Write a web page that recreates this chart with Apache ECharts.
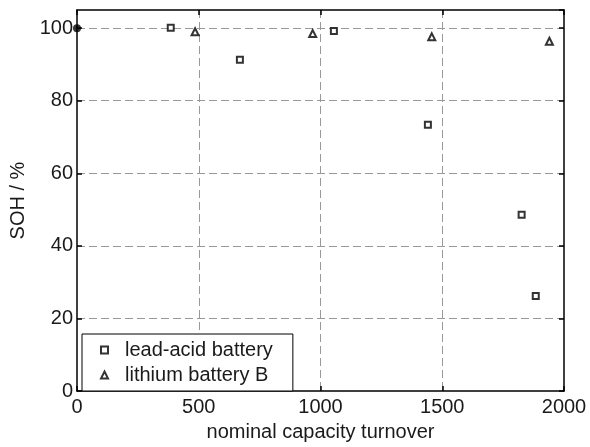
<!DOCTYPE html>
<html>
<head>
<meta charset="utf-8">
<script src="https://cdn.jsdelivr.net/npm/echarts@6/dist/echarts.min.js"></script>
<style>html,body{margin:0;padding:0;background:#fff}#c{width:590px;height:447px}</style>
</head>
<body>
<div id="c"></div>
<script>
// data
const leadAcidX = [385, 669, 1055, 1441, 1826, 1884];
const leadAcidY = [100.1, 91.3, 99.2, 73.4, 48.6, 26.2];
const lithiumX = [485, 968, 1457, 1940];
const lithiumY = [99.0, 98.5, 97.6, 96.4];
const startX = [0];
const startY = [100];
const xTicks = [0, 500, 1000, 1500, 2000];
const yTicks = [0, 20, 40, 60, 80, 100];
const seriesNames = ['lead-acid battery', 'lithium battery B'];

const pair = (xs, ys) => xs.map((x, i) => [x, ys[i]]);
const font = 'Liberation Sans, Arial, sans-serif';
const txt = '#1a1a1a';
const gridLine = {show: true, showMinLine: false, showMaxLine: false,
  lineStyle: {color: '#999', width: 1, type: [8, 4]}};
const frame = {show: true, onZero: false, lineStyle: {color: '#000', width: 1.5}};
const tick = {show: true, inside: true, length: 5, lineStyle: {color: '#000', width: 1.5}};

const chart = echarts.init(document.getElementById('c'), null, {renderer: 'canvas'});
chart.setOption({
  animation: false,
  backgroundColor: '#fff',
  grid: {left: 77, right: 26, top: 10, bottom: 53},
  legend: {
    orient: 'vertical', left: 82, top: 334,
    data: [
      {name: seriesNames[0], icon: 'rect'},
      {name: seriesNames[1], icon: 'triangle'}
    ],
    itemWidth: 7, itemHeight: 7, itemGap: 5,
    padding: [6, 20, 6, 18],
    borderColor: '#000', borderWidth: 1, backgroundColor: '#fff',
    textStyle: {fontFamily: font, fontSize: 20, color: txt, padding: [0, 0, 0, 12]},
    itemStyle: {color: '#fff', borderColor: '#000', borderWidth: 2}
  },
  xAxis: [{
    type: 'value', min: xTicks[0], max: xTicks[xTicks.length - 1], interval: 500,
    name: 'nominal capacity turnover', nameLocation: 'middle', nameGap: 28,
    nameTextStyle: {fontFamily: font, fontSize: 20, color: txt},
    axisLine: frame, axisTick: tick,
    axisLabel: {fontFamily: font, fontSize: 20, color: txt, margin: 6, formatter: v => String(v)},
    splitLine: gridLine
  }, {
    type: 'value', position: 'top', min: xTicks[0], max: xTicks[xTicks.length - 1], interval: 500,
    axisLine: frame, axisTick: tick,
    axisLabel: {show: false}, splitLine: {show: false}
  }],
  yAxis: [{
    type: 'value', min: yTicks[0], max: 105, interval: 20,
    name: 'SOH / %', nameLocation: 'middle', nameGap: 47,
    nameTextStyle: {fontFamily: font, fontSize: 20, color: txt},
    axisLine: frame, axisTick: tick,
    axisLabel: {fontFamily: font, fontSize: 20, color: txt, margin: 4, showMaxLabel: false,
      formatter: v => yTicks.includes(v) ? String(v) : ''},
    splitLine: gridLine
  }, {
    type: 'value', position: 'right', min: yTicks[0], max: 105, interval: 20,
    axisLine: frame, axisTick: tick,
    axisLabel: {show: false}, splitLine: {show: false}
  }],
  series: [
    {
      name: seriesNames[0], type: 'scatter', symbol: 'rect', symbolSize: 6,
      data: pair(leadAcidX, leadAcidY), clip: false,
      itemStyle: {color: '#fff', borderColor: '#000', borderWidth: 2}
    },
    {
      name: seriesNames[1], type: 'scatter', symbol: 'triangle', symbolSize: 7,
      data: pair(lithiumX, lithiumY), clip: false,
      itemStyle: {color: '#fff', borderColor: '#000', borderWidth: 2}
    },
    {
      name: 'start', type: 'scatter', symbol: 'circle', symbolSize: 8,
      data: pair(startX, startY), clip: false, z: 5,
      itemStyle: {color: '#000'}
    }
  ]
});
</script>
</body>
</html>
